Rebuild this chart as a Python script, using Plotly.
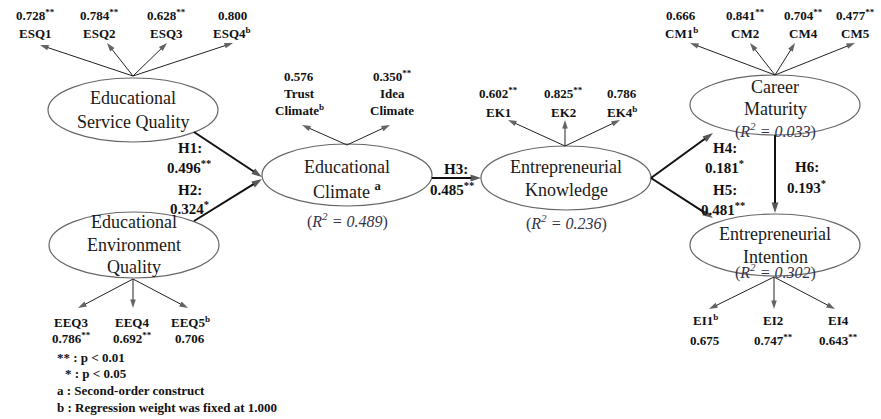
import plotly.graph_objects as go

# ---------------- data ----------------
construct_keys = ["ESQ", "EEQ", "EC", "EK", "CM", "EI"]
construct_names = [
    ["Educational", "Service Quality"],
    ["Educational", "Environment", "Quality"],
    ["Educational", "Climate"],
    ["Entrepreneurial", "Knowledge"],
    ["Career", "Maturity"],
    ["Entrepreneurial", "Intention"],
]
construct_marks = ["", "", "a", "", "", ""]
r_squared = [None, None, 0.489, 0.236, 0.033, 0.302]

esq_items = ["ESQ1", "ESQ2", "ESQ3", "ESQ4"]
esq_loadings = [0.728, 0.784, 0.628, 0.800]
esq_sig = ["**", "**", "**", ""]
esq_fixed = [False, False, False, True]

eeq_items = ["EEQ3", "EEQ4", "EEQ5"]
eeq_loadings = [0.786, 0.692, 0.706]
eeq_sig = ["**", "**", ""]
eeq_fixed = [False, False, True]

ec_items = [["Trust", "Climate"], ["Idea", "Climate"]]
ec_loadings = [0.576, 0.350]
ec_sig = ["", "**"]
ec_fixed = [True, False]

ek_items = ["EK1", "EK2", "EK4"]
ek_loadings = [0.602, 0.825, 0.786]
ek_sig = ["**", "**", ""]
ek_fixed = [False, False, True]

cm_items = ["CM1", "CM2", "CM4", "CM5"]
cm_loadings = [0.666, 0.841, 0.704, 0.477]
cm_sig = ["", "**", "**", "**"]
cm_fixed = [True, False, False, False]

ei_items = ["EI1", "EI2", "EI4"]
ei_loadings = [0.675, 0.747, 0.643]
ei_sig = ["", "**", "**"]
ei_fixed = [True, False, False]

path_labels = ["H1", "H2", "H3", "H4", "H5", "H6"]
path_from = ["ESQ", "EEQ", "EC", "EK", "EK", "CM"]
path_to = ["EC", "EC", "EK", "CM", "EI", "EI"]
path_coef = [0.496, 0.324, 0.485, 0.181, 0.481, 0.193]
path_sig = ["**", "*", "**", "*", "**", "*"]

notes = ["** : p < 0.01", "* : p < 0.05", "a : Second-order construct",
         "b : Regression weight was fixed at 1.000"]

# ---------------- layout (positions / styles) ----------------
W, H = 881, 419
SERIF = "Liberation Serif, Times New Roman, serif"
ell = {  # cx, cy, rx, ry
    "ESQ": (133, 110, 85, 32),
    "EEQ": (134, 245, 85, 33),
    "EC": (347, 175, 85, 31),
    "EK": (566, 178, 85, 32),
    "CM": (775, 105, 85, 30),
    "EI": (775, 245, 85, 31),
}
text_y = {
    "ESQ": [98, 122], "EEQ": [222, 245, 267], "EC": [167, 190],
    "EK": [167, 190], "CM": [87, 109], "EI": [234, 257],
}
r2_y = {"EC": 220, "EK": 222, "CM": 130, "EI": 271}

# indicator layout: origin, tips, label x, line ys, value-first?
ind_layout = {
    "ESQ": dict(origin=(133, 76), tips=[(40, 45), (107, 43), (167, 43), (233, 43)],
                lx=[35, 99, 166, 232], ly=(15, 33), value_first=True),
    "EEQ": dict(origin=(133, 279), tips=[(78, 308), (133, 308), (188, 308)],
                lx=[71, 132, 190], ly=(322, 338), value_first=False),
    "EC": dict(origin=(347, 145), tips=[(302, 125), (390, 125)],
               lx=[299, 392], ly=(76, 93, 110), value_first=True),
    "EK": dict(origin=(565, 146), tips=[(508, 120), (565, 120), (620, 120)],
               lx=[498, 563, 622], ly=(93, 112), value_first=True),
    "CM": dict(origin=(775, 75), tips=[(690, 43), (750, 43), (795, 43), (855, 43)],
               lx=[681, 745, 803, 855], ly=(15, 33), value_first=True),
    "EI": dict(origin=(774, 277), tips=[(709, 309), (774, 309), (835, 309)],
               lx=[705, 773, 838], ly=(320, 340), value_first=False),
}
ind_data = {
    "ESQ": (esq_items, esq_loadings, esq_sig, esq_fixed),
    "EEQ": (eeq_items, eeq_loadings, eeq_sig, eeq_fixed),
    "EC": (ec_items, ec_loadings, ec_sig, ec_fixed),
    "EK": (ek_items, ek_loadings, ek_sig, ek_fixed),
    "CM": (cm_items, cm_loadings, cm_sig, cm_fixed),
    "EI": (ei_items, ei_loadings, ei_sig, ei_fixed),
}

path_geom = {  # start, tip
    "H1": ((194, 132), (262, 177)),
    "H2": ((194, 221), (262, 179)),
    "H3": ((432, 178), (481, 178)),
    "H4": ((651, 178), (713, 133)),
    "H5": ((651, 178), (713, 218)),
    "H6": ((775, 135), (775, 213)),
}
path_text = {  # x, y of "Hn:" and of the coefficient
    "H1": ((190, 148), (189, 167)),
    "H2": ((190, 190), (189, 208)),
    "H3": ((456, 169), (452, 189)),
    "H4": ((725, 148), (724, 167)),
    "H5": ((725, 190), (723, 209)),
    "H6": ((807, 167), (806, 187)),
}
note_pos = [(55, 357), (63, 373), (55, 390), (55, 407)]

# ---------------- build ----------------
fig = go.Figure()
shapes, anns = [], []


def txt(x, y, s, size=13, bold=False, color="#111", xanchor="center"):
    if bold:
        s = f"<b>{s}</b>"
    anns.append(dict(x=x, y=y, xref="x", yref="y", text=s, showarrow=False,
                     xanchor=xanchor, yanchor="middle",
                     font=dict(family=SERIF, size=size, color=color)))


def arrow(p0, p1, width=1.0, head=9, color="#222"):
    fig.add_trace(go.Scatter(
        x=[p0[0], p1[0]], y=[p0[1], p1[1]], mode="lines+markers",
        line=dict(color=color, width=width),
        marker=dict(symbol="arrow", size=[0, head], angleref="previous",
                    color=color, line=dict(width=0)),
        hoverinfo="skip", showlegend=False, cliponaxis=False))


for key, lines, mark, r2 in zip(construct_keys, construct_names, construct_marks, r_squared):
    cx, cy, rx, ry = ell[key]
    shapes.append(dict(type="circle", xref="x", yref="y", x0=cx - rx, x1=cx + rx,
                       y0=cy - ry, y1=cy + ry, line=dict(color="#666666", width=1.2),
                       fillcolor="rgba(255,255,255,0)", layer="below"))
    for i, (ln, yy) in enumerate(zip(lines, text_y[key])):
        s = ln
        if i == len(lines) - 1 and mark:
            s += f" <sup><b>{mark}</b></sup>"
        txt(cx, yy, s, size=18, color="#1a1a1a")
    if r2 is not None:
        txt(cx, r2_y[key], f"(<i>R<sup>2</sup> = {r2:.3f}</i>)", size=16, color="#33334a")

for key, (items, loads, sigs, fixed) in ind_data.items():
    L = ind_layout[key]
    for it, ld, sg, fx, tip, lx in zip(items, loads, sigs, fixed, L["tips"], L["lx"]):
        arrow(L["origin"], tip, width=1.0, head=9)
        val = f"{ld:.3f}" + (f"<sup>{sg}</sup>" if sg else "")
        name_lines = list(it) if isinstance(it, list) else [it]
        if fx:
            name_lines[-1] = name_lines[-1] + "<sup>b</sup>"
        seq = [val] + name_lines if L["value_first"] else name_lines + [val]
        for s, yy in zip(seq, L["ly"]):
            txt(lx, yy, s, size=13, bold=True, color="#111")

for hl, fr, to, cf, sg in zip(path_labels, path_from, path_to, path_coef, path_sig):
    p0, p1 = path_geom[hl]
    arrow(p0, p1, width=2.0, head=11, color="#111")
    (hx, hy), (vx, vy) = path_text[hl]
    txt(hx, hy, f"{hl}:", size=15, bold=True)
    txt(vx, vy, f"{cf:.3f}<sup>{sg}</sup>", size=15, bold=True)

for s, (x, y) in zip(notes, note_pos):
    txt(x, y, s, size=13, bold=True, xanchor="left")

fig.update_layout(
    width=W, height=H, margin=dict(l=0, r=0, t=0, b=0),
    paper_bgcolor="white", plot_bgcolor="white",
    xaxis=dict(range=[0, W], visible=False, fixedrange=True),
    yaxis=dict(range=[H, 0], visible=False, fixedrange=True),
    shapes=shapes, annotations=anns, showlegend=False,
)
fig.write_html(
    "out.html",
    config={"displayModeBar": False},
    post_script="document.body.style.margin='0px';"
                "document.documentElement.style.overflow='hidden';",
)
